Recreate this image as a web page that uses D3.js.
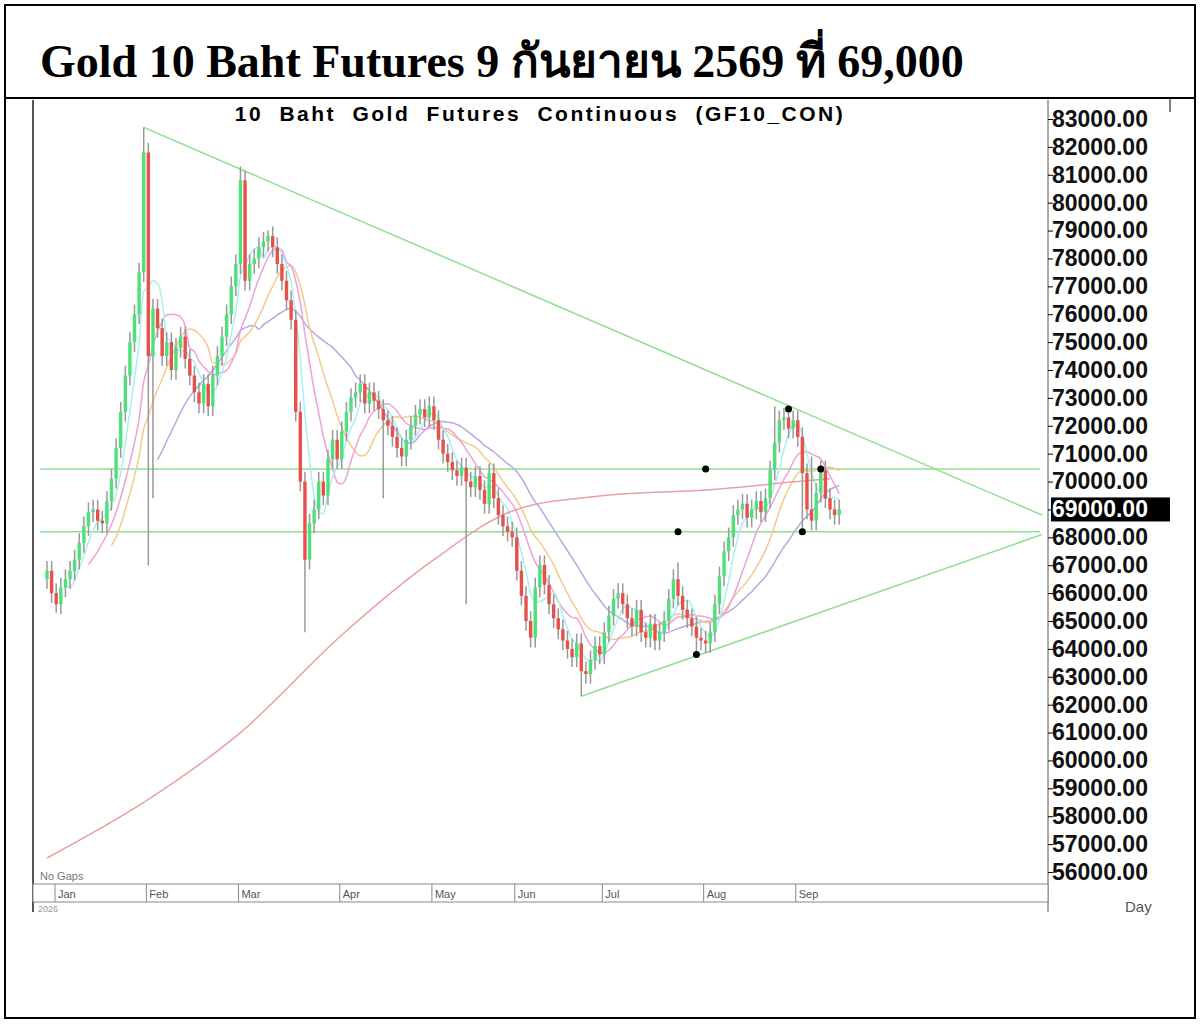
<!DOCTYPE html>
<html>
<head>
<meta charset="utf-8" />
<style>
  body { margin: 0; background: #fff; }
  svg { display: block; }
</style>
<script src="https://d3js.org/d3.v7.min.js"></script>
</head>
<body>
<svg id="main-graph"></svg>
<script>
// daily closes (thousands of baht)
let closes = [
  66.8,66.0,65.6,66.2,66.5,66.8,67.2,67.8,68.4,68.9,69.0,68.6,68.5,69.3,70.1,71.2,72.5,73.8,75.0,76.0,77.5,81.8,
  74.5,76.2,75.5,74.5,75.0,74.0,74.8,75.2,74.4,73.8,73.2,72.8,73.5,72.7,73.8,74.5,75.2,76.0,77.0,77.8,
  80.8,77.2,77.8,78.0,78.4,78.6,78.8,78.4,77.8,77.2,76.5,75.8,72.5,70.0,67.2,68.5,69.0,70.0,69.5,70.8,71.5,70.8,
  71.8,72.5,73.0,73.2,73.5,72.8,73.2,72.9,72.6,72.2,72.0,71.6,71.2,70.9,71.5,72.0,72.4,72.6,72.3,72.7,
  72.2,71.5,71.0,70.7,70.4,70.2,70.5,70.0,69.8,70.2,69.7,69.2,70.3,69.4,68.8,68.4,68.2,68.0,
  66.8,65.9,65.0,64.4,66.2,67.0,66.3,65.6,65.1,64.7,64.3,64.0,63.7,64.2,63.2,63.1,63.6,64.1,63.8,64.6,65.2,
  65.8,66.0,65.6,65.1,64.8,65.4,64.6,64.4,64.9,64.3,64.6,65.0,65.8,66.5,65.9,65.4,65.1,64.8,64.4,64.3,64.2,64.6,
  65.6,66.6,67.5,68.0,68.8,69.0,69.2,68.7,69.0,69.3,68.9,69.4,70.4,71.4,72.2,72.3,71.9,72.2,71.6,70.3,
  69.0,68.6,69.6,70.4,69.4,69.0,68.8,69.0
];
// highs / lows where wicks reach well past the body
let highSpikes = { 21: 82.7, 42: 81.3, 48: 79.0, 137: 67.1, 158: 72.7, 166: 70.9 };
let lowSpikes = { 2: 65.3, 22: 67.0, 23: 69.4, 56: 64.6, 73: 69.4, 91: 65.6, 116: 62.3, 141: 63.8, 164: 68.2 };

// long moving average (red), read at a few days
let longMaDays = [0, 22, 42, 64, 84, 102, 121, 143, 163, 170];
let longMaVals = [56.5, 58.6, 61.0, 64.5, 67.2, 69.0, 69.5, 69.7, 70.0, 70.1];

let months = ["Jan","Feb","Mar","Apr","May","Jun","Jul","Aug","Sep"];
let monthStart = [0, 22, 42, 64, 84, 102, 121, 143, 163];
let yTicks = d3.range(56, 84, 1);

let W = 1200, H = 1031;
let svg = d3.select("#main-graph").attr("width", W).attr("height", H);

svg.append("text").attr("x", 40).attr("y", 77)
  .attr("font-family", "Liberation Serif, Noto Sans, serif").attr("font-weight", "bold").attr("font-size", 46)
  .text("Gold 10 Baht Futures 9 กันยายน 2569 ที่ 69,000");

let x = d3.scaleLinear().domain([0, 170]).range([47, 830]);
let y = d3.scaleLinear().domain([56, 83]).range([872, 119]);
let right = 1048;

// plot border
svg.append("line").attr("x1", 33).attr("x2", 33).attr("y1", 100).attr("y2", 912).attr("stroke", "#555").attr("stroke-width", 2);
svg.append("line").attr("x1", right).attr("x2", right).attr("y1", 100).attr("y2", 912).attr("stroke", "#555");
svg.append("text").attr("x", 540).attr("y", 121).attr("text-anchor", "middle")
  .attr("font-family", "Liberation Sans, Arial").attr("font-weight", "bold").attr("font-size", 21)
  .attr("letter-spacing", 2.5).attr("word-spacing", 8).text("10 Baht Gold Futures Continuous (GF10_CON)");

// right axis
let yAxis = d3.axisRight(y).tickValues(yTicks).tickSize(5).tickFormat(d => d3.format("d")(d * 1000) + ".00");
let ag = svg.append("g").attr("transform", `translate(${right},0)`).call(yAxis);
ag.select(".domain").remove();
ag.selectAll("text").attr("font-family", "Liberation Sans, Arial").attr("font-weight", "bold")
  .attr("font-size", 23).attr("x", 4).attr("fill", "#111");
ag.selectAll(".tick").filter(d => d === 69).select("text").attr("fill", "#fff");
ag.insert("rect", ".tick").attr("x", 3).attr("y", y(69) - 12).attr("width", 119).attr("height", 24).attr("fill", "#000");
svg.append("rect").attr("x", 1170).attr("y", 100).attr("width", 24).attr("height", 830).attr("fill", "#fff");
svg.append("text").attr("x", 1125).attr("y", 912).attr("font-family", "Liberation Sans, Arial").attr("font-size", 15).attr("fill", "#555").text("Day");

// table frame
let frame = svg.append("g").attr("stroke", "#000").attr("fill", "none");
frame.append("rect").attr("x", 5).attr("y", 5).attr("width", 1190).attr("height", 1013).attr("stroke-width", 2);
frame.append("line").attr("x1", 5).attr("x2", 1195).attr("y1", 98).attr("y2", 98).attr("stroke-width", 2);
frame.append("line").attr("x1", 1170).attr("x2", 1170).attr("y1", 98).attr("y2", 112);

// month band
svg.append("rect").attr("x", 33).attr("y", 884).attr("width", right - 33).attr("height", 18).attr("fill", "#fff").attr("stroke", "#888");
months.forEach((m, i) => {
  let mx = x(monthStart[i]) - (i === 0 ? -8 : 2);
  svg.append("line").attr("x1", mx).attr("x2", mx).attr("y1", 884).attr("y2", 902).attr("stroke", "#888");
  svg.append("text").attr("x", mx + 3).attr("y", 898).attr("font-family", "Liberation Sans, Arial").attr("font-size", 11).attr("fill", "#555").text(m);
});
svg.append("text").attr("x", 40).attr("y", 880).attr("font-family", "Liberation Sans, Arial").attr("font-size", 11).attr("fill", "#777").text("No  Gaps");
svg.append("text").attr("x", 38).attr("y", 912).attr("font-family", "Liberation Sans, Arial").attr("font-size", 9).attr("fill", "#999").text("2026");

let plot = svg.append("g");

// support / resistance lines
let green = "#8fe08f";
[70.45, 68.2].forEach(v => plot.append("line").attr("x1", 40).attr("x2", 1040).attr("y1", y(v)).attr("y2", y(v)).attr("stroke", green).attr("stroke-width", 1.5));
let trend = [[21, 82.7, 216, 68.8], [116, 62.3, 216, 68.1]];
trend.forEach(t => plot.append("line").attr("x1", x(t[0])).attr("y1", y(t[1])).attr("x2", x(t[2])).attr("y2", y(t[3])).attr("stroke", green).attr("stroke-width", 1.5));

// moving averages
function sma(n) {
  return closes.map((c, i) => i < n - 1 ? null : d3.mean(closes.slice(i - n + 1, i + 1)));
}
let line = d3.line().defined(d => d[1] != null).x(d => x(d[0])).y(d => y(d[1])).curve(d3.curveMonotoneX);
[[25, "#b9a8e0"], [15, "#f5c98a"], [10, "#f0a0d8"], [5, "#a8f0f0"]].forEach(([n, col]) => {
  plot.append("path").datum(sma(n).map((v, i) => [i, v])).attr("d", line).attr("fill", "none").attr("stroke", col).attr("stroke-width", 1.5);
});
plot.append("path").datum(longMaDays.map((d, i) => [d, longMaVals[i]])).attr("d", line)
  .attr("fill", "none").attr("stroke", "#e8a0a0").attr("stroke-width", 1.5);

// candles
let candles = closes.map((c, i) => {
  let o = i === 0 ? c - 0.3 : closes[i - 1];
  let hi = highSpikes[i] != null ? highSpikes[i] : Math.max(o, c) + 0.35;
  let lo = lowSpikes[i] != null ? lowSpikes[i] : Math.min(o, c) - 0.35;
  return { i, o, c, hi, lo };
});
let cg = plot.selectAll("g.c").data(candles).enter().append("g");
cg.append("line").attr("x1", d => x(d.i)).attr("x2", d => x(d.i)).attr("y1", d => y(d.hi)).attr("y2", d => y(d.lo)).attr("stroke", "#999").attr("stroke-width", 1.5);
cg.append("rect").attr("x", d => x(d.i) - 1.7).attr("width", 3.4)
  .attr("y", d => y(Math.max(d.o, d.c))).attr("height", d => Math.max(1.5, Math.abs(y(d.o) - y(d.c))))
  .attr("fill", d => d.c >= d.o ? "#4ee07a" : "#e8504a");

// marked points
let marks = [[141, 63.8], [137, 68.2], [143, 70.45], [161, 72.6], [164, 68.2], [168, 70.45]];
plot.selectAll("circle.m").data(marks).enter().append("circle")
  .attr("cx", d => x(d[0])).attr("cy", d => y(d[1])).attr("r", 3.5).attr("fill", "#000");
</script>
</body>
</html>
